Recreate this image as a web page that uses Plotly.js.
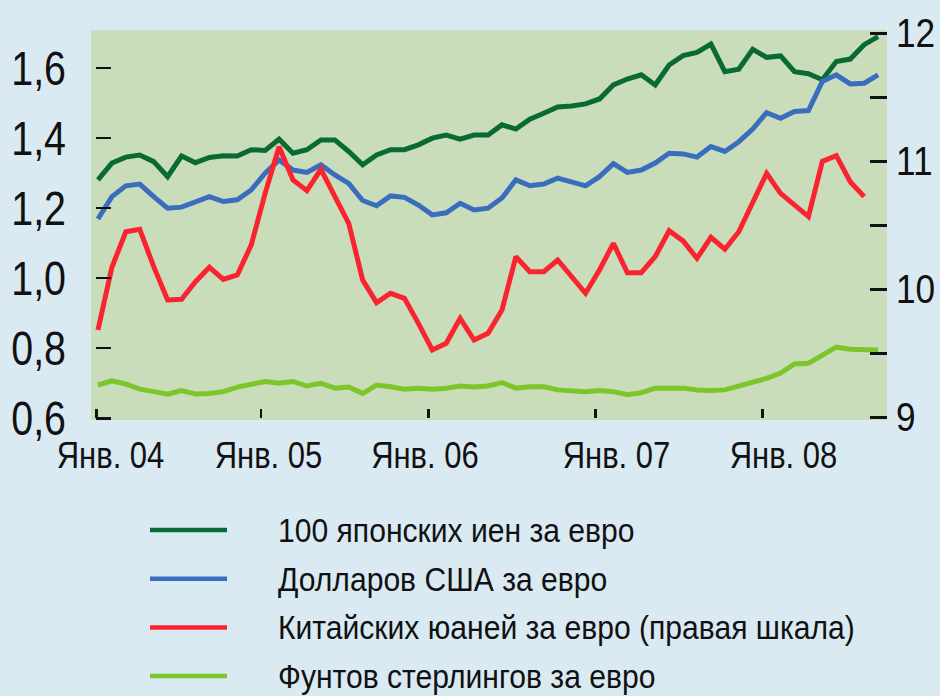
<!DOCTYPE html>
<html>
<head>
<meta charset="utf-8">
<script src="https://cdn.plot.ly/plotly-3.0.1.min.js"></script>
<style>html,body{margin:0;padding:0;background:#DAEAF3;}#chart{width:940px;height:696px;}</style>
</head>
<body>
<div id="chart"></div>
<script>
// Monthly observations, Jan 2004 onward (index 0 = Jan 2004)
const seriesNames = [
  '100 японских иен за евро',
  'Долларов США за евро',
  'Китайских юаней за евро (правая шкала)',
  'Фунтов стерлингов за евро'
];
const jpy100 = [1.281,1.329,1.346,1.352,1.333,1.290,1.349,1.330,1.345,1.350,1.349,1.367,
  1.365,1.397,1.357,1.367,1.395,1.395,1.362,1.324,1.352,1.367,1.367,1.381,
  1.400,1.409,1.397,1.409,1.409,1.438,1.426,1.454,1.471,1.489,1.492,1.498,
  1.512,1.552,1.569,1.581,1.552,1.609,1.636,1.645,1.669,1.590,1.597,1.654,
  1.631,1.635,1.590,1.584,1.567,1.619,1.626,1.667,1.690];
const usd = [1.169,1.233,1.264,1.269,1.233,1.200,1.203,1.219,1.233,1.219,1.224,1.252,
  1.300,1.338,1.309,1.302,1.324,1.295,1.271,1.222,1.207,1.235,1.231,1.209,
  1.181,1.187,1.214,1.195,1.200,1.229,1.281,1.264,1.269,1.286,1.276,1.264,
  1.290,1.327,1.302,1.309,1.329,1.357,1.355,1.346,1.376,1.362,1.390,1.426,
  1.473,1.457,1.476,1.479,1.562,1.581,1.555,1.557,1.581];
const cny = [9.682,10.172,10.450,10.469,10.177,9.917,9.922,10.060,10.172,10.078,10.112,10.346,
  10.750,11.114,10.854,10.771,10.938,10.724,10.516,10.073,9.896,9.969,9.930,9.734,
  9.526,9.578,9.773,9.604,9.656,9.838,10.255,10.138,10.138,10.229,10.099,9.969,
  10.151,10.359,10.130,10.130,10.255,10.458,10.378,10.242,10.406,10.313,10.450,10.672,
  10.906,10.750,10.659,10.568,11.000,11.044,10.841,10.724];
const gbp = [0.695,0.707,0.698,0.683,0.676,0.669,0.679,0.669,0.671,0.676,0.689,0.698,
  0.705,0.700,0.705,0.692,0.700,0.686,0.689,0.671,0.695,0.690,0.683,0.686,
  0.683,0.686,0.692,0.689,0.692,0.702,0.686,0.690,0.690,0.681,0.679,0.676,
  0.679,0.676,0.667,0.673,0.686,0.686,0.686,0.681,0.679,0.681,0.692,0.700,
  0.714,0.729,0.755,0.757,0.781,0.803,0.797,0.795,0.795];
const yearLabels = ['Янв. 04','Янв. 05','Янв. 06','Янв. 07','Янв. 08'];
const leftTicks = [0.6,0.8,1.0,1.2,1.4,1.6];
const rightTicks = [9,9.5,10,10.5,11,11.5,12];
const rightTickText = ['9','','10','','11','','12'];

const colors = ['#0A6A34','#3B6DBF','#FA2430','#7CC62C'];
const idx = n => Array.from({length:n}, (_, i) => i);
const FONT = '"Liberation Sans", Arial, sans-serif';
const INK = '#111';

const values = [jpy100, usd, cny, gbp];
const axes = ['y','y','y2','y'];
const traces = values.map((v, k) => ({
  type: 'scatter', mode: 'lines', x: idx(v.length), y: v, yaxis: axes[k],
  name: seriesNames[k], showlegend: false,
  line: {color: colors[k], width: 5}, hoverinfo: 'skip'
}));
// invisible trace that carries the label axis
traces.push({type:'scatter', mode:'none', x:[0], y:[1], xaxis:'x2', showlegend:false, hoverinfo:'skip'});

// legend block (below the plot), built from the series names/colours
const plotL = 91, plotR = 887, plotT = 30, plotB = 420;
const px2x = p => (p - plotL) / (plotR - plotL);
const px2y = p => (plotB - p) / (plotB - plotT);
const legTop = 530, legStep = 48.7, legX0 = 150, legX1 = 227, legText = 277;
const shapes = seriesNames.map((_, k) => ({
  type: 'line', xref: 'paper', yref: 'paper',
  x0: px2x(legX0), x1: px2x(legX1), y0: px2y(legTop + k * legStep), y1: px2y(legTop + k * legStep),
  line: {color: colors[k], width: 4.5}
}));
const annotations = seriesNames.map((name, k) => ({
  text: name, showarrow: false, xref: 'paper', yref: 'paper',
  x: px2x(legText), y: px2y(legTop + k * legStep), xanchor: 'left', yanchor: 'middle',
  borderpad: 0, font: {size: 34, family: FONT, color: INK}
}));

const tickOffset = -0.28;
const layout = {
  width: 940, height: 696,
  paper_bgcolor: '#DAEAF3', plot_bgcolor: '#C9DDBA',
  margin: {l: plotL, r: 940 - plotR, t: plotT, b: 696 - plotB},
  separators: ',.',
  font: {family: FONT, color: INK},
  showlegend: false,
  shapes: shapes, annotations: annotations,
  xaxis: {
    range: [-0.5, 56.64], showgrid: false, zeroline: false, showline: false,
    tickvals: yearLabels.map((_, k) => 12 * k + (k === 0 ? -0.12 : tickOffset)),
    ticks: 'inside', ticklen: 9, tickwidth: 2.5, tickcolor: INK,
    showticklabels: false, anchor: 'free', position: 0.005, automargin: false
  },
  xaxis2: {
    overlaying: 'x', range: [-0.5, 56.64], showgrid: false, zeroline: false,
    tickvals: [0.90, 12.24, 23.47, 37.22, 49.21], ticktext: yearLabels,
    ticks: '', tickfont: {size: 36, family: FONT, color: INK},
    ticklabelstandoff: 11, anchor: 'y', side: 'bottom', automargin: false
  },
  yaxis: {
    range: [0.595, 1.709], tickvals: leftTicks, tickformat: '.1f',
    ticks: 'inside', ticklen: 15, tickwidth: 2.5, tickcolor: INK,
    showgrid: false, zeroline: false, showline: false,
    tickfont: {size: 48, family: FONT, color: INK},
    anchor: 'free', position: 0.005, ticklabelstandoff: 29, automargin: false
  },
  yaxis2: {
    overlaying: 'y', side: 'right', range: [8.979, 12.026],
    tickvals: rightTicks, ticktext: rightTickText,
    ticks: 'inside', ticklen: 17, tickwidth: 2.5, tickcolor: INK,
    showgrid: false, zeroline: false, showline: false,
    tickfont: {size: 40, family: FONT, color: INK},
    ticklabelstandoff: 8, automargin: false
  }
};

// The original uses a narrow (condensed) typeface: compress glyphs horizontally.
// Legend texts keep their left edge; axis labels keep their anchor.
function narrowText(gd) {
  gd.querySelectorAll('svg text').forEach(t => {
    if (!t.textContent.trim()) return;
    const ann = t.closest('.annotation');
    let K = 0.86;
    if (ann) K = 0.885;
    else if (t.closest('.ytick')) K = 0.82;
    else if (t.closest('.y2tick')) K = 0.88;
    const bb = t.getBBox();
    const w = t.getComputedTextLength();
    if (w <= 0) return;
    t.setAttribute('textLength', (w * K).toFixed(2));
    t.setAttribute('lengthAdjust', 'spacingAndGlyphs');
    if (ann) {
      t.setAttribute('text-anchor', 'start');
      t.style.textAnchor = 'start';
      t.setAttribute('x', bb.x.toFixed(2));
      const bg = ann.querySelector('rect.bg');
      if (bg) bg.setAttribute('width', (w * K + 2).toFixed(2));
    }
  });
}
const gd = document.getElementById('chart');
Plotly.newPlot(gd, traces, layout, {staticPlot: true}).then(() => narrowText(gd));
</script>
</body>
</html>
